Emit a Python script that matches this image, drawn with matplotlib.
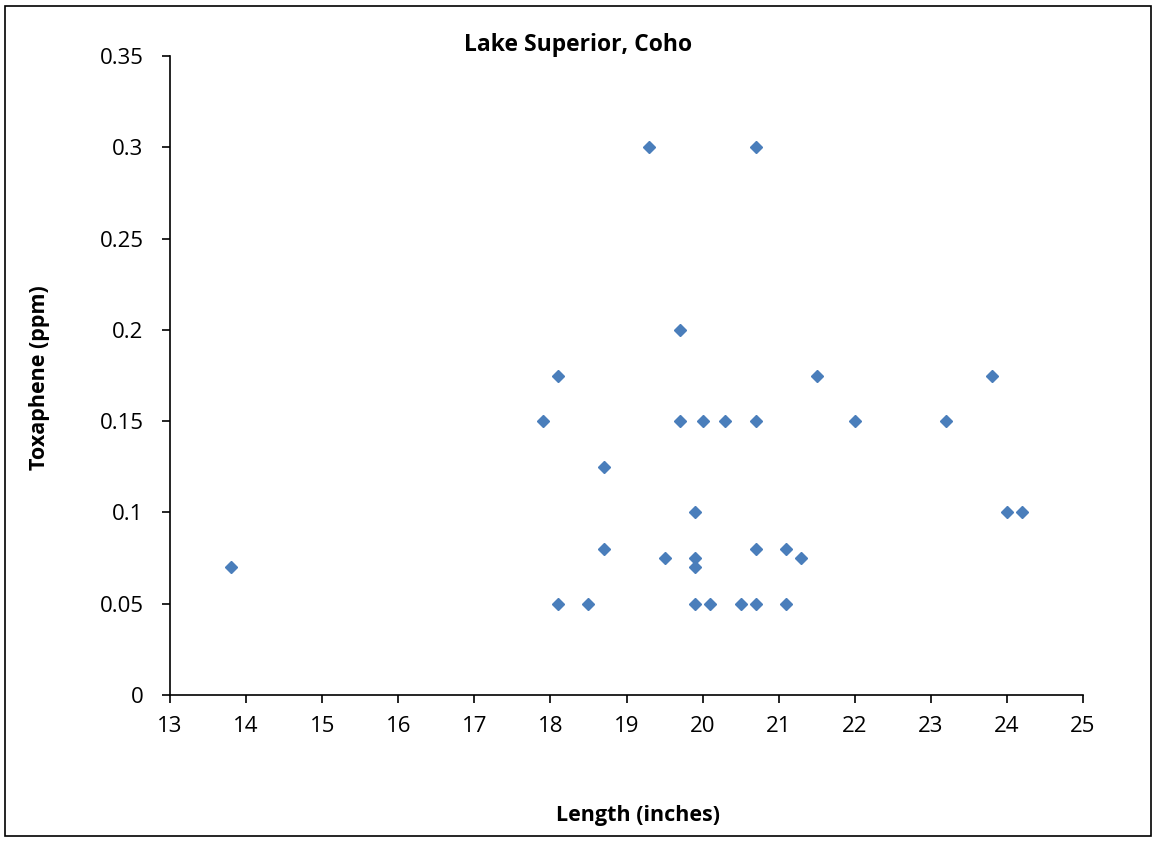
import matplotlib
matplotlib.use("Agg")
import matplotlib.pyplot as plt
from matplotlib.patches import Rectangle

length = [13.8, 17.9, 18.1, 18.1, 18.5, 18.7, 18.7, 19.3, 19.5, 19.7, 19.7,
          19.9, 19.9, 19.9, 19.9, 20.0, 20.1, 20.3, 20.5, 20.7, 20.7, 20.7,
          20.7, 21.1, 21.1, 21.3, 21.5, 22.0, 23.2, 23.8, 24.0, 24.2]
toxaphene = [0.07, 0.15, 0.175, 0.05, 0.05, 0.125, 0.08, 0.3, 0.075, 0.2, 0.15,
             0.1, 0.075, 0.07, 0.05, 0.15, 0.05, 0.15, 0.05, 0.3, 0.15, 0.08,
             0.05, 0.08, 0.05, 0.075, 0.175, 0.15, 0.15, 0.175, 0.1, 0.1]
xticks = list(range(13, 26))
yticks = [0, 0.05, 0.1, 0.15, 0.2, 0.25, 0.3, 0.35]
ytick_labels = ["0", "0.05", "0.1", "0.15", "0.2", "0.25", "0.3", "0.35"]

plt.rcParams['font.family'] = ['Open Sans', 'DejaVu Sans']

fig = plt.figure(figsize=(11.56, 8.42), dpi=100)
ax = fig.add_axes([170/1156, 1-695/842, (1083-170)/1156, (695-56)/842])

ax.plot(length, toxaphene, linestyle='none', marker='D', markersize=6,
        color='#4A7EBB', markeredgecolor='#4A7EBB')

ax.set_xlim(13, 25)
ax.set_ylim(0, 0.35)
ax.set_xticks(xticks)
ax.set_xticklabels([str(v) for v in xticks])
ax.set_yticks(yticks)
ax.set_yticklabels(ytick_labels)
for s in ['top', 'right']:
    ax.spines[s].set_visible(False)
for s in ['left', 'bottom']:
    ax.spines[s].set_linewidth(1.2)
ax.tick_params(direction='out', length=6, width=1.2, labelsize=16)
ax.tick_params(axis='x', pad=9)
ax.tick_params(axis='y', pad=13)

fig.text(578/1156, 1-45/842, "Lake Superior, Coho", ha='center', va='center',
         fontsize=16.5, fontweight='bold')
fig.text(638/1156, 1-816/842, "Length (inches)", ha='center', va='center',
         fontsize=15.5, fontweight='bold')
fig.text(40/1156, 1-378/842, "Toxaphene (ppm)", ha='center', va='center',
         fontsize=15.5, fontweight='bold', rotation=90)

fig.patches.append(Rectangle((5/1156, 6/842), 1146/1156, 830/842,
                             transform=fig.transFigure, fill=False,
                             edgecolor='black', linewidth=1.2))

fig.savefig("out.png", dpi=100)
